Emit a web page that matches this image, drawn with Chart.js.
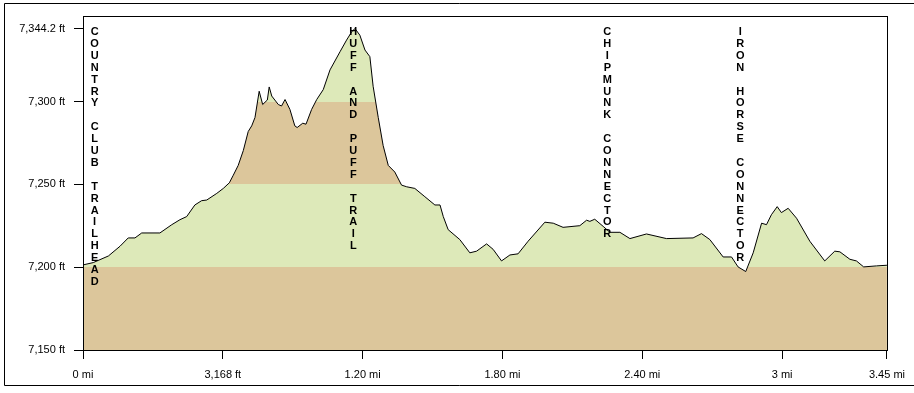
<!DOCTYPE html>
<html>
<head>
<meta charset="utf-8">
<script src="https://cdn.jsdelivr.net/npm/chart.js@4/dist/chart.umd.min.js"></script>
<style>
  body { margin: 0; background: #fff; }
  canvas { display: block; }
</style>
</head>
<body>
<canvas id="profil" width="914" height="393"></canvas>
<script>
// jarak (mi) dan elevasi (ft)
const jarak = [
  0.000, 0.044, 0.109, 0.159, 0.194, 0.223, 0.252, 0.330, 0.381, 0.416,
  0.445, 0.480, 0.509, 0.531, 0.574, 0.602, 0.628, 0.645, 0.666, 0.688,
  0.709, 0.724, 0.738, 0.756, 0.771, 0.791, 0.799, 0.810, 0.838, 0.852,
  0.867, 0.888, 0.909, 0.919, 0.943, 0.957, 0.981, 1.003, 1.031, 1.060,
  1.103, 1.131, 1.153, 1.167, 1.188, 1.210, 1.231, 1.245, 1.267, 1.288,
  1.310, 1.338, 1.367, 1.389, 1.424, 1.467, 1.510, 1.532, 1.546, 1.567,
  1.617, 1.660, 1.689, 1.732, 1.760, 1.796, 1.832, 1.867, 1.910, 1.982,
  2.018, 2.060, 2.132, 2.161, 2.175, 2.196, 2.232, 2.261, 2.304, 2.347,
  2.418, 2.504, 2.618, 2.654, 2.690, 2.747, 2.783, 2.811, 2.844, 2.876,
  2.912, 2.933, 2.954, 2.979, 2.997, 3.026, 3.062, 3.119, 3.183, 3.226,
  3.248, 3.291, 3.319, 3.350, 3.405, 3.450
];
const elevasi = [
  7201.4, 7202.8, 7206.8, 7212.7, 7217.7, 7217.7, 7220.7, 7220.7, 7225.7, 7228.7,
  7230.6, 7237.6, 7240.2, 7240.6, 7244.6, 7247.6, 7251.0, 7255.6, 7261.5, 7270.5,
  7282.0, 7285.4, 7290.4, 7306.3, 7298.3, 7301.0, 7308.9, 7303.4, 7298.3, 7297.4,
  7301.3, 7295.3, 7285.4, 7284.4, 7287.0, 7286.4, 7295.3, 7301.3, 7307.3, 7319.2,
  7330.2, 7337.2, 7342.2, 7344.2, 7340.2, 7331.2, 7327.2, 7309.3, 7290.4, 7273.5,
  7261.5, 7257.5, 7249.6, 7248.6, 7247.6, 7242.6, 7237.6, 7237.6, 7230.6, 7222.7,
  7216.7, 7208.7, 7209.7, 7214.1, 7210.8, 7203.8, 7207.4, 7208.1, 7215.7, 7227.2,
  7226.6, 7224.1, 7225.1, 7228.4, 7227.7, 7229.0, 7224.7, 7221.1, 7221.1, 7217.3,
  7220.1, 7217.3, 7217.7, 7220.3, 7216.7, 7206.2, 7206.2, 7200.2, 7197.4, 7208.7,
  7226.6, 7225.7, 7231.7, 7236.6, 7233.0, 7235.6, 7229.6, 7215.7, 7203.8, 7209.7,
  7209.3, 7204.8, 7203.8, 7200.2, 7200.8, 7201.2
];

const tickX = [0, 0.6, 1.2, 1.8, 2.4, 3, 3.45];
const labelX = ["0 mi", "3,168 ft", "1.20 mi", "1.80 mi", "2.40 mi", "3 mi", "3.45 mi"];
const tickY = [7150, 7200, 7250, 7300, 7344.2];
const labelY = ["7,150 ft", "7,200 ft", "7,250 ft", "7,300 ft", "7,344.2 ft"];

// batas pita warna elevasi
const batasPita = [7200, 7250, 7300];
const warnaPita = ["#dcc69b", "#dde9b9", "#dcc69b", "#dde9b9"];

const namaJalur = ["COUNTRY CLUB TRAILHEAD", "HUFF AND PUFF TRAIL", "CHIPMUNK CONNECTOR", "IRON HORSE CONNECTOR"];
const posisiJalur = [0.05, 1.16, 2.25, 2.82];

const Y_MIN = 7150, Y_MAX = 7352;

function isiPita(context) {
    const chart = context.chart;
    const area = chart.chartArea;
    if (!area) return warnaPita[1];
    const y = chart.scales.y;
    const bawah = y.getPixelForValue(Y_MIN);
    const atas = y.getPixelForValue(Y_MAX);
    const g = chart.ctx.createLinearGradient(0, bawah, 0, atas);
    const frac = v => (v - Y_MIN) / (Y_MAX - Y_MIN);
    let awal = 0;
    warnaPita.forEach((c, i) => {
        const akhir = i < batasPita.length ? frac(batasPita[i]) : 1;
        g.addColorStop(awal, c);
        g.addColorStop(akhir, c);
        awal = akhir;
    });
    return g;
}

const bingkai = {
    id: "bingkai",
    beforeDraw(chart) {
        const c = chart.ctx;
        c.save();
        c.fillStyle = "#fff";
        c.fillRect(0, 0, chart.width, chart.height);
        c.strokeStyle = "#000";
        c.lineWidth = 1;
        c.beginPath();
        c.moveTo(920, 3.5);
        c.lineTo(4.5, 3.5);
        c.lineTo(4.5, 385.5);
        c.lineTo(920, 385.5);
        c.stroke();
        c.restore();
    },
    afterDraw(chart) {
        const c = chart.ctx;
        const a = chart.chartArea;
        const sx = chart.scales.x;
        c.save();
        c.strokeStyle = "#000";
        c.lineWidth = 1;
        c.strokeRect(Math.round(a.left) + 0.5, Math.round(a.top) + 0.5,
            Math.round(a.right - a.left), Math.round(a.bottom - a.top));
        c.fillStyle = "#000";
        c.font = "bold 11px 'Liberation Sans', Arial, sans-serif";
        c.textAlign = "center";
        c.textBaseline = "middle";
        namaJalur.forEach((nama, i) => {
            const px = sx.getPixelForValue(posisiJalur[i]);
            for (let k = 0; k < nama.length; k++) {
                c.fillText(nama[k], px, 32 + k * 11.9);
            }
        });
        c.restore();
    }
};

new Chart(document.getElementById("profil"), {
    type: "line",
    data: {
        labels: jarak,
        datasets: [{
            data: jarak.map((x, i) => ({ x: x, y: elevasi[i] })),
            borderColor: "#000",
            borderWidth: 1,
            pointRadius: 0,
            tension: 0,
            fill: "start",
            backgroundColor: isiPita
        }]
    },
    options: {
        responsive: false,
        animation: false,
        events: [],
        layout: { padding: { left: 5, top: 12, right: 26, bottom: 0 } },
        plugins: { legend: { display: false }, tooltip: { enabled: false } },
        scales: {
            x: {
                type: "linear",
                min: 0,
                max: 3.45,
                afterBuildTicks: s => { s.ticks = tickX.map(v => ({ value: v })); },
                afterFit: s => { s.height = 43; },
                border: { display: false },
                grid: { drawOnChartArea: false, drawTicks: true, tickLength: 9, color: "#000" },
                ticks: {
                    autoSkip: false,
                    maxRotation: 0,
                    padding: 9,
                    color: "#000",
                    font: { family: "'Liberation Sans', Arial, sans-serif", size: 11 },
                    callback: (v, i) => labelX[i]
                }
            },
            y: {
                min: Y_MIN,
                max: Y_MAX,
                afterBuildTicks: s => { s.ticks = tickY.map(v => ({ value: v })); },
                afterFit: s => { s.width = 78; },
                border: { display: false },
                grid: { drawOnChartArea: false, drawTicks: true, tickLength: 9, color: "#000" },
                ticks: {
                    autoSkip: false,
                    padding: 9,
                    color: "#000",
                    font: { family: "'Liberation Sans', Arial, sans-serif", size: 11 },
                    callback: (v, i) => labelY[i]
                }
            }
        }
    },
    plugins: [bingkai]
});
</script>
</body>
</html>
